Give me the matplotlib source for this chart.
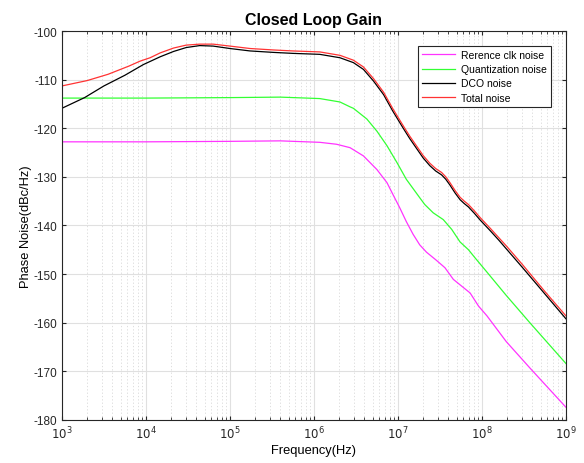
import matplotlib
matplotlib.use("Agg")
import matplotlib.pyplot as plt
from matplotlib.ticker import NullFormatter
import numpy as np

plt.rcParams['font.family'] = ['Liberation Sans', 'DejaVu Sans']
plt.rcParams['axes.unicode_minus'] = False

# log10(frequency) / phase noise values
ref_logf = [3.0, 4.0, 5.0, 5.6, 6.07, 6.27, 6.43, 6.59, 6.75, 6.87, 6.94, 7.02,
            7.1, 7.18, 7.26, 7.34, 7.46, 7.56, 7.66, 7.76, 7.86, 7.96, 8.06, 8.29,
            8.57, 9.0]
ref_pn = [-122.8, -122.8, -122.7, -122.6, -122.9, -123.3, -124.0, -125.7, -128.5,
          -131.2, -133.6, -136.3, -139.2, -141.8, -144.0, -145.5, -147.2, -148.7,
          -151.1, -152.5, -153.9, -156.6, -158.6, -163.9, -169.3, -177.4]

quant_logf = [3.0, 4.0, 5.0, 5.6, 6.07, 6.31, 6.43, 6.47, 6.55, 6.63, 6.75, 6.87,
              6.99, 7.1, 7.18, 7.26, 7.32, 7.42, 7.54, 7.64, 7.74, 7.84, 7.92, 8.06,
              8.29, 8.57, 9.0]
quant_pn = [-113.8, -113.8, -113.7, -113.6, -113.9, -114.6, -115.6, -115.9, -117.0,
            -118.1, -120.6, -123.6, -127.1, -130.5, -132.4, -134.3, -135.7, -137.4,
            -138.8, -140.8, -143.4, -145.0, -146.7, -149.6, -154.4, -160.0, -168.4]

dco_logf = [3.0, 3.27, 3.5, 3.75, 3.97, 4.17, 4.33, 4.48, 4.64, 4.8, 5.0, 5.24,
            5.52, 5.75, 6.07, 6.31, 6.47, 6.59, 6.71, 6.83, 6.94, 7.06, 7.14, 7.22,
            7.3, 7.38, 7.45, 7.52, 7.57, 7.62, 7.68, 7.74, 7.79, 7.84, 7.91, 7.98,
            8.04, 8.1, 8.2, 8.29, 8.49, 8.75, 9.0]
dco_pn = [-115.9, -113.7, -111.3, -109.1, -106.9, -105.3, -104.2, -103.4, -103.0,
          -103.1, -103.6, -104.1, -104.4, -104.6, -104.8, -105.5, -106.5, -107.9,
          -110.3, -113.1, -116.5, -119.9, -122.1, -124.1, -126.1, -127.7, -128.8,
          -129.6, -130.5, -131.7, -133.3, -134.7, -135.5, -136.2, -137.5, -138.9,
          -140.0, -141.1, -143.0, -144.8, -148.8, -154.1, -159.2]

total_logf = [3.0, 3.3, 3.55, 3.8, 3.93, 4.05, 4.17, 4.33, 4.48, 4.64, 4.8, 5.0,
              5.24, 5.52, 5.75, 6.07, 6.31, 6.47, 6.59, 6.71, 6.83, 6.94, 7.06, 7.14,
              7.22, 7.3, 7.38, 7.45, 7.52, 7.57, 7.62, 7.68, 7.74, 7.79, 7.84, 7.91,
              7.98, 8.04, 8.1, 8.2, 8.29, 8.49, 8.75, 9.0]
total_pn = [-111.3, -110.2, -108.9, -107.2, -106.2, -105.5, -104.5, -103.5, -102.9,
            -102.7, -102.7, -103.1, -103.6, -103.9, -104.1, -104.3, -105.0, -106.0,
            -107.4, -109.8, -112.6, -116.0, -119.4, -121.6, -123.6, -125.6, -127.2,
            -128.3, -129.1, -130.0, -131.2, -132.8, -134.2, -135.0, -135.7, -137.0,
            -138.4, -139.5, -140.6, -142.5, -144.2, -148.2, -153.6, -158.6]

x_decades = [3, 4, 5, 6, 7, 8, 9]

series = [
    ("Rerence clk noise", ref_logf, ref_pn, "#ff33ff"),
    ("Quantization noise", quant_logf, quant_pn, "#33ff33"),
    ("DCO noise", dco_logf, dco_pn, "#000000"),
    ("Total noise", total_logf, total_pn, "#ff3333"),
]

fig = plt.figure(figsize=(5.84, 4.64), dpi=100)
ax = fig.add_axes([0.106, 0.093, 0.863, 0.838])

for name, lf, pn, col in series:
    ax.semilogx(10 ** np.array(lf), pn, color=col, lw=0.9, label=name)

ax.set_xlim(1e3, 1e9)
ax.set_ylim(-180, -100)
ax.set_yticks(np.arange(-180, -99, 10))
ax.set_xticks([10.0 ** d for d in x_decades],
              [r'$10^{%d}$' % d for d in x_decades])
ax.xaxis.set_minor_formatter(NullFormatter())

ax.grid(True, which='major', color='#e0e0e0', lw=0.8, ls='-')
ax.grid(True, which='minor', axis='x', color='#d8d8d8', lw=0.6, ls=(0, (1.5, 2.5)))
ax.set_axisbelow(True)

ax.tick_params(which='both', direction='in', top=True, right=True,
               labelsize=8.5, colors='#262626', length=3)
ax.tick_params(which='minor', length=2)
for s in ax.spines.values():
    s.set_color('#262626')
    s.set_linewidth(0.8)

ax.set_title('Closed Loop Gain', fontsize=11.5, fontweight='bold', pad=5)
ax.set_xlabel('Frequency(Hz)', fontsize=9.3, labelpad=2)
ax.set_ylabel('Phase Noise(dBc/Hz)', fontsize=9.3, labelpad=1)

leg = ax.legend(loc='upper right', bbox_to_anchor=(0.98, 0.975), fontsize=7.5,
                fancybox=False, framealpha=1, edgecolor='#262626',
                handlelength=3.2, handletextpad=0.5, borderpad=0.4,
                labelspacing=0.4)
leg.get_frame().set_linewidth(0.8)

fig.savefig('out.png', dpi=100)
